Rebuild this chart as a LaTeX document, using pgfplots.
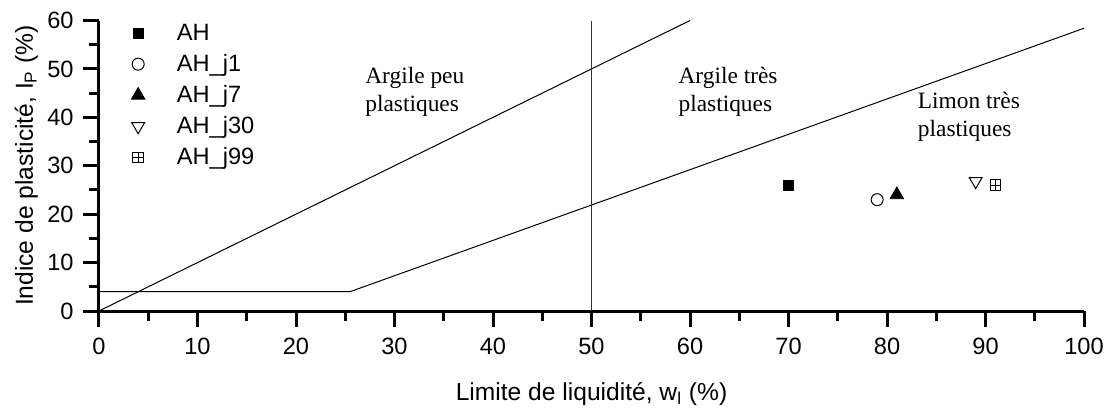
\documentclass[border=0pt]{standalone}
\usepackage{fontspec}
\setmainfont{Liberation Sans}
\newfontfamily\seriffont{Liberation Serif}
\usepackage{pgfplots}
\pgfplotsset{compat=1.18}

\pgfdeclareplotmark{sqplus}{%
  \pgfpathrectangle{\pgfpoint{-\pgfplotmarksize}{-\pgfplotmarksize}}{\pgfpoint{2\pgfplotmarksize}{2\pgfplotmarksize}}%
  \pgfpathmoveto{\pgfpoint{-\pgfplotmarksize}{0pt}}\pgfpathlineto{\pgfpoint{\pgfplotmarksize}{0pt}}%
  \pgfpathmoveto{\pgfpoint{0pt}{-\pgfplotmarksize}}\pgfpathlineto{\pgfpoint{0pt}{\pgfplotmarksize}}%
  \pgfusepathqstroke}

\begin{document}
\begin{tikzpicture}
\useasboundingbox (-49.5pt,-50.5pt) rectangle (504.5pt,155.5pt);
\begin{axis}[
  at={(0,0)}, anchor=south west,
  scale only axis,
  width=492.5pt, height=145.25pt,
  xmin=0, xmax=100, ymin=0, ymax=60,
  axis x line=bottom, axis y line=left,
  axis line style={-, line width=1.5pt},
  xtick={0,10,...,100}, ytick={0,10,...,60},
  minor x tick num=1, minor y tick num=1,
  tick align=outside,
  major tick length=8pt, minor tick length=5pt,
  every tick/.style={black, line width=1.5pt},
  every minor tick/.style={black, line width=1.5pt},
  /pgf/number format/assume math mode=true,
  tick label style={font=\fontsize{11.8}{13}\selectfont, inner sep=0pt},
  xticklabel shift=5.5pt,
  yticklabel shift=4.5pt,
  every axis x label/.style={at={([yshift=-44.5pt]axis description cs:0.5,0)}, anchor=base, font=\fontsize{12.3}{14}\selectfont},
  every axis y label/.style={at={([xshift=-33pt]axis description cs:0,0.5)}, rotate=90, anchor=base, font=\fontsize{12.3}{14}\selectfont},
  xlabel={Limite de liquidité, w\textsubscript{l} (\%)},
  ylabel={Indice de plasticité, I\textsubscript{P} (\%)},
  legend cell align=left,
  legend style={at={(0,1)}, anchor=north west, xshift=16pt, yshift=0.5pt,
    draw=none, fill=none, inner sep=0pt, column sep=14pt, row sep=1.5pt,
    font=\fontsize{11.8}{13}\selectfont},
  clip=false,
]
\addplot[only marks, mark=square*, mark size=2.6pt, black] coordinates {(70,26)};
\addlegendentry{AH}
\addplot[only marks, mark=o, mark size=3pt, black, mark options={line width=0.5pt}] coordinates {(79,23)};
\addlegendentry{AH\_j1}
\addplot[only marks, mark=triangle*, mark size=3.9pt, black] coordinates {(81,24)};
\addlegendentry{AH\_j7}
\addplot[only marks, mark=triangle, mark size=3.7pt, black, mark options={rotate=180, line width=0.5pt}] coordinates {(89,26.8)};
\addlegendentry{AH\_j30}
\addplot[only marks, mark=sqplus, mark size=2.6pt, black, mark options={line width=0.5pt}] coordinates {(91,26)};
\addlegendentry{AH\_j99}

\addplot[black, line width=0.5pt, forget plot] coordinates {(0,0) (60,60)};
\addplot[black, line width=0.5pt, forget plot] coordinates {(0,4) (25.5,4) (100,58.4)};
\addplot[black!80, line width=0.6pt, forget plot] coordinates {(50,0) (50,60)};

\node[anchor=north west, inner sep=0pt, align=left, font=\seriffont\fontsize{11.7}{14}\selectfont] at (axis cs:27,50.4) {Argile peu\\plastiques};
\node[anchor=north west, inner sep=0pt, align=left, font=\seriffont\fontsize{11.7}{14}\selectfont] at (axis cs:58.8,50.4) {Argile très\\plastiques};
\node[anchor=north west, inner sep=0pt, align=left, font=\seriffont\fontsize{11.7}{14}\selectfont] at (axis cs:83.1,45.2) {Limon très\\plastiques};
\end{axis}
\end{tikzpicture}
\end{document}
